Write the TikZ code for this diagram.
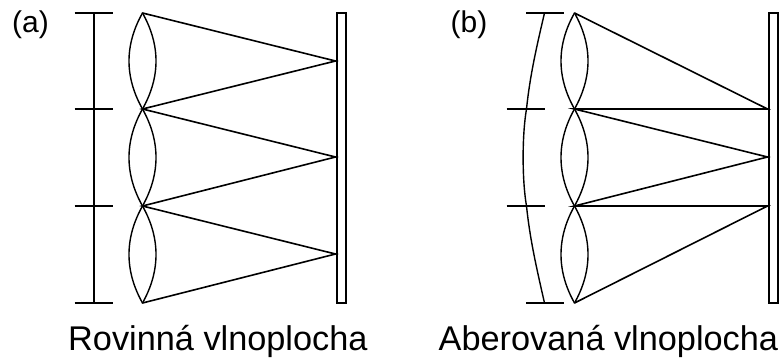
\documentclass[tikz,border=0pt]{standalone}
\usepackage{fontspec}
\setmainfont{Liberation Sans}
\tikzset{
  ln/.style={line width=1.6pt,black,line cap=round},
  thin ln/.style={line width=1.4pt,black},
  lab/.style={inner sep=0pt,anchor=base west,font=\fontsize{34.3}{38}\selectfont},
  pan/.style={inner sep=0pt,anchor=base west,font=\fontsize{30}{34}\selectfont}
}
\begin{document}
\begin{tikzpicture}[x=1pt,y=-1pt]
\useasboundingbox (0,0) rectangle (784,361);
% lens nodes and foci
\foreach \n/\x in {a/142.5,b/574.5}{
  \coordinate (\n0) at (\x,13);
  \coordinate (\n1) at (\x,109);
  \coordinate (\n2) at (\x,206);
  \coordinate (\n3) at (\x,303);
  \draw[thin ln] (\n0) .. controls (\x-18,45) and (\x-18,77) .. (\n1) .. controls (\x-18,141) and (\x-18,174) .. (\n2) .. controls (\x-18,238) and (\x-18,271) .. (\n3);
  \draw[thin ln] (\n0) .. controls (\x+18,45) and (\x+18,77) .. (\n1) .. controls (\x+18,141) and (\x+18,174) .. (\n2) .. controls (\x+18,238) and (\x+18,271) .. (\n3);
}
% sensors
\node[draw,line width=1.3pt,inner sep=0pt,minimum width=9pt,minimum height=290pt] (sa) at (341.5,158) {};
\node[draw,line width=1.3pt,inner sep=0pt,minimum width=9pt,minimum height=290pt] (sb) at (773.5,158) {};
\coordinate (fa1) at (335.5,61);
\coordinate (fa2) at (335.5,157);
\coordinate (fa3) at (335.5,254);
\coordinate (fb1) at (767.5,109);
\coordinate (fb2) at (767.5,157);
\coordinate (fb3) at (767.5,206);
% rays
\draw[ln] (a0) -- (fa1) -- (a1) -- (fa2) -- (a2) -- (fa3) -- (a3);
\draw[ln] (b0) -- (fb1) -- (b1) -- (fb2) -- (b2) -- (fb3) -- (b3);
% plane wavefront
\coordinate (wa0) at (94,13);
\coordinate (wa3) at (94,303);
\draw[ln] (wa0) -- (wa3);
\foreach \y in {13,109,206,303}{
  \draw[thin ln] (74.5,\y) -- (113,\y);
}
% aberrated wavefront
\coordinate (wb0) at (544.5,13);
\coordinate (wb1) at (526.5,109);
\coordinate (wb2) at (526.5,206);
\coordinate (wb3) at (544.5,303);
\draw[thin ln] (wb0) .. controls (537,45) and (530,75) .. (wb1) .. controls (522,135) and (522,180) .. (wb2) .. controls (530,240) and (537,270) .. (wb3);
\draw[thin ln] (526,13) -- (564,13);
\draw[thin ln] (506.5,109) -- (545,109);
\draw[thin ln] (506.5,206) -- (545,206);
\draw[thin ln] (526,303) -- (564,303);
% labels
\node[pan] (la) at (12,32.5) {(a)};
\node[pan] (lb) at (450.5,32.5) {(b)};
\node[lab] (ta) at (68,350) {Rovinná vlnoplocha};
\node[lab] (tb) at (438.5,350) {Aberovaná vlnoplocha};
\end{tikzpicture}
\end{document}
